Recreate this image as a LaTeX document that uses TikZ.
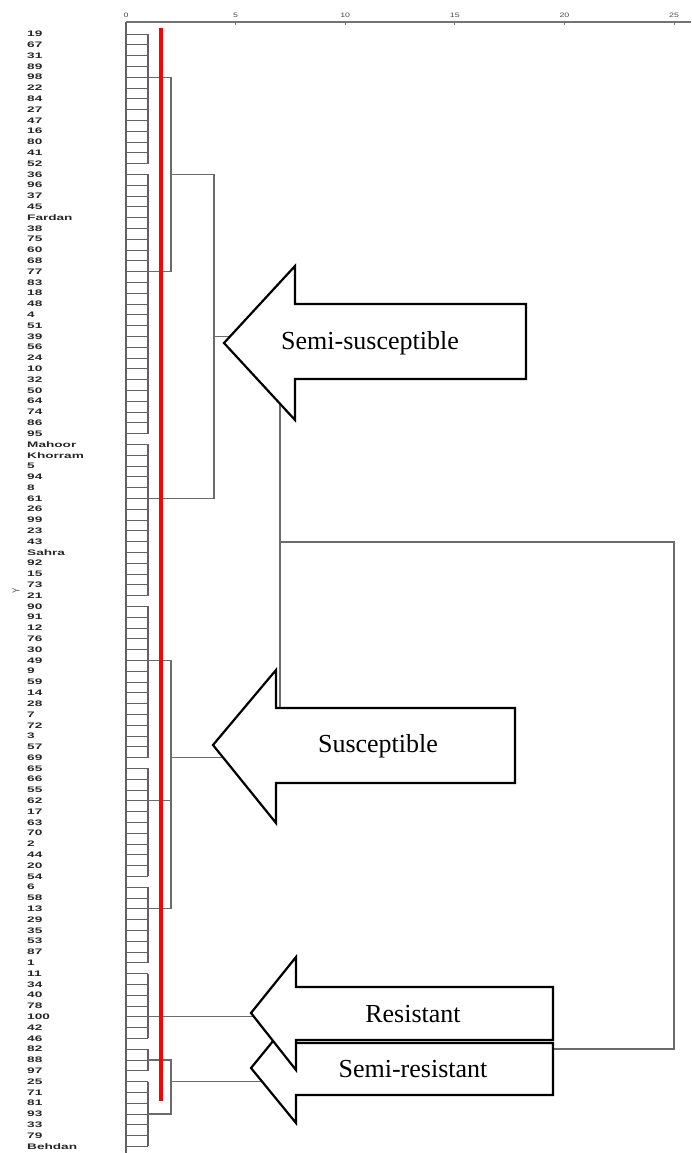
\documentclass[tikz,border=0pt]{standalone}
\usepackage{fontspec}
\setmainfont{Liberation Serif}
\newfontfamily\lblfont{Liberation Sans}
\begin{document}
\begin{tikzpicture}[x=1pt,y=-1pt,
  dend/.style={draw=black!58, line width=1.2pt},
  rung/.style={draw=black!62, line width=0.9pt},
  trunk/.style={draw=black!62, line width=2pt},
  axisline/.style={draw=black!55, line width=1.3pt},
  arrowbox/.style={draw=black, line width=2.2pt, fill=white, line join=miter},
  rowlab/.style={anchor=west, inner sep=0pt, font=\lblfont\bfseries\fontsize{8}{8}\selectfont, text=black!85},
  ticklab/.style={inner sep=0pt, font=\lblfont\fontsize{8}{8}\selectfont, text=black!70},
  cls/.style={font=\fontsize{26}{26}\selectfont, inner sep=0pt},
  cutline/.style={draw=red, line width=3.5pt}
]
\useasboundingbox (0,0) rectangle (691,1153);

% axis
\draw[axisline] (126,22) -- (691,22);
\foreach \d in {0,5,10,15,20,25}{
  \pgfmathsetmacro{\xx}{126+21.92*\d}
  \draw[axisline, line width=0.8pt] (\xx,22) -- (\xx,25);
  \node[ticklab] (t\d) at (\xx,15.5) {\scalebox{1.1}[0.8]{\d}};
}
\node[rotate=90, inner sep=0pt, font=\lblfont\fontsize{8}{8}\selectfont, text=black!70] (ymark) at (16,591) {\scalebox{1}[1.3]{Y}};

% trunk at distance 0
\draw[trunk] (126,22) -- (126,1153);

% row labels and rungs
\foreach \lab [count=\i] in {19,67,31,89,98,22,84,27,47,16,80,41,52,36,96,37,45,Fardan,38,75,60,68,77,83,18,48,4,51,39,56,24,10,32,50,64,74,86,95,Mahoor,Khorram,5,94,8,61,26,99,23,43,Sahra,92,15,73,21,90,91,12,76,30,49,9,59,14,28,7,72,3,57,69,65,66,55,62,17,63,70,2,44,20,54,6,58,13,29,35,53,87,1,11,34,40,78,100,42,46,82,88,97,25,71,81,93,33,79,Behdan}{
  \pgfmathsetmacro{\yy}{34+(\i-1)*10.8}
  \node[rowlab] (r\i) at (27,\yy) {\scalebox{1.7}[1]{\lab}};
  \draw[rung] (126,\yy) -- (148,\yy);
}

% first-level clusters
\foreach \a/\b in {1/13,14/38,39/53,54/68,69/79,80/87,88/94,95/97,98/104}{
  \draw[trunk] (148,{34+(\a-1)*10.8}) -- (148,{34+(\b-1)*10.8});
}

% higher-level joins
\draw[dend] (148,77.2) -- (171,77.2) -- (171,271.6) -- (148,271.6);
\draw[dend] (171,174.4) -- (214,174.4) -- (214,498.4) -- (148,498.4);
\draw[dend] (214,336.4) -- (280,336.4) -- (280,757.6) -- (171,757.6);
\draw[dend] (148,660.4) -- (171,660.4) -- (171,908.8) -- (148,908.8);
\draw[dend] (148,800.8) -- (171,800.8);
\draw[dend] (280,542) -- (674,542) -- (674,1049) -- (420,1049);
\draw[dend] (148,1016.8) -- (270,1016.8);
\draw[dend] (148,1060) -- (171,1060) -- (171,1114) -- (148,1114);
\draw[dend] (171,1081.6) -- (285,1081.6);

% cut line
\draw[cutline] (161,28) -- (161,1101);

% class arrows
\draw[arrowbox] (224,343) -- (295,266) -- (295,304) -- (526,304) -- (526,379) -- (295,379) -- (295,420) -- cycle;
\node[cls] (semisus) at (370,343) {Semi-susceptible};

\draw[arrowbox] (213,745) -- (276,670) -- (276,708) -- (515,708) -- (515,783) -- (276,783) -- (276,823) -- cycle;
\node[cls] (sus) at (378,746) {Susceptible};

\draw[arrowbox] (251,1068) -- (296,1013) -- (296,1043) -- (553,1043) -- (553,1095) -- (296,1095) -- (296,1123) -- cycle;
\node[cls] (semires) at (413,1069) {Semi-resistant};

\draw[arrowbox] (251,1013) -- (296,957) -- (296,987) -- (553,987) -- (553,1040) -- (296,1040) -- (296,1070) -- cycle;
\node[cls] (res) at (413,1014) {Resistant};
\end{tikzpicture}
\end{document}
